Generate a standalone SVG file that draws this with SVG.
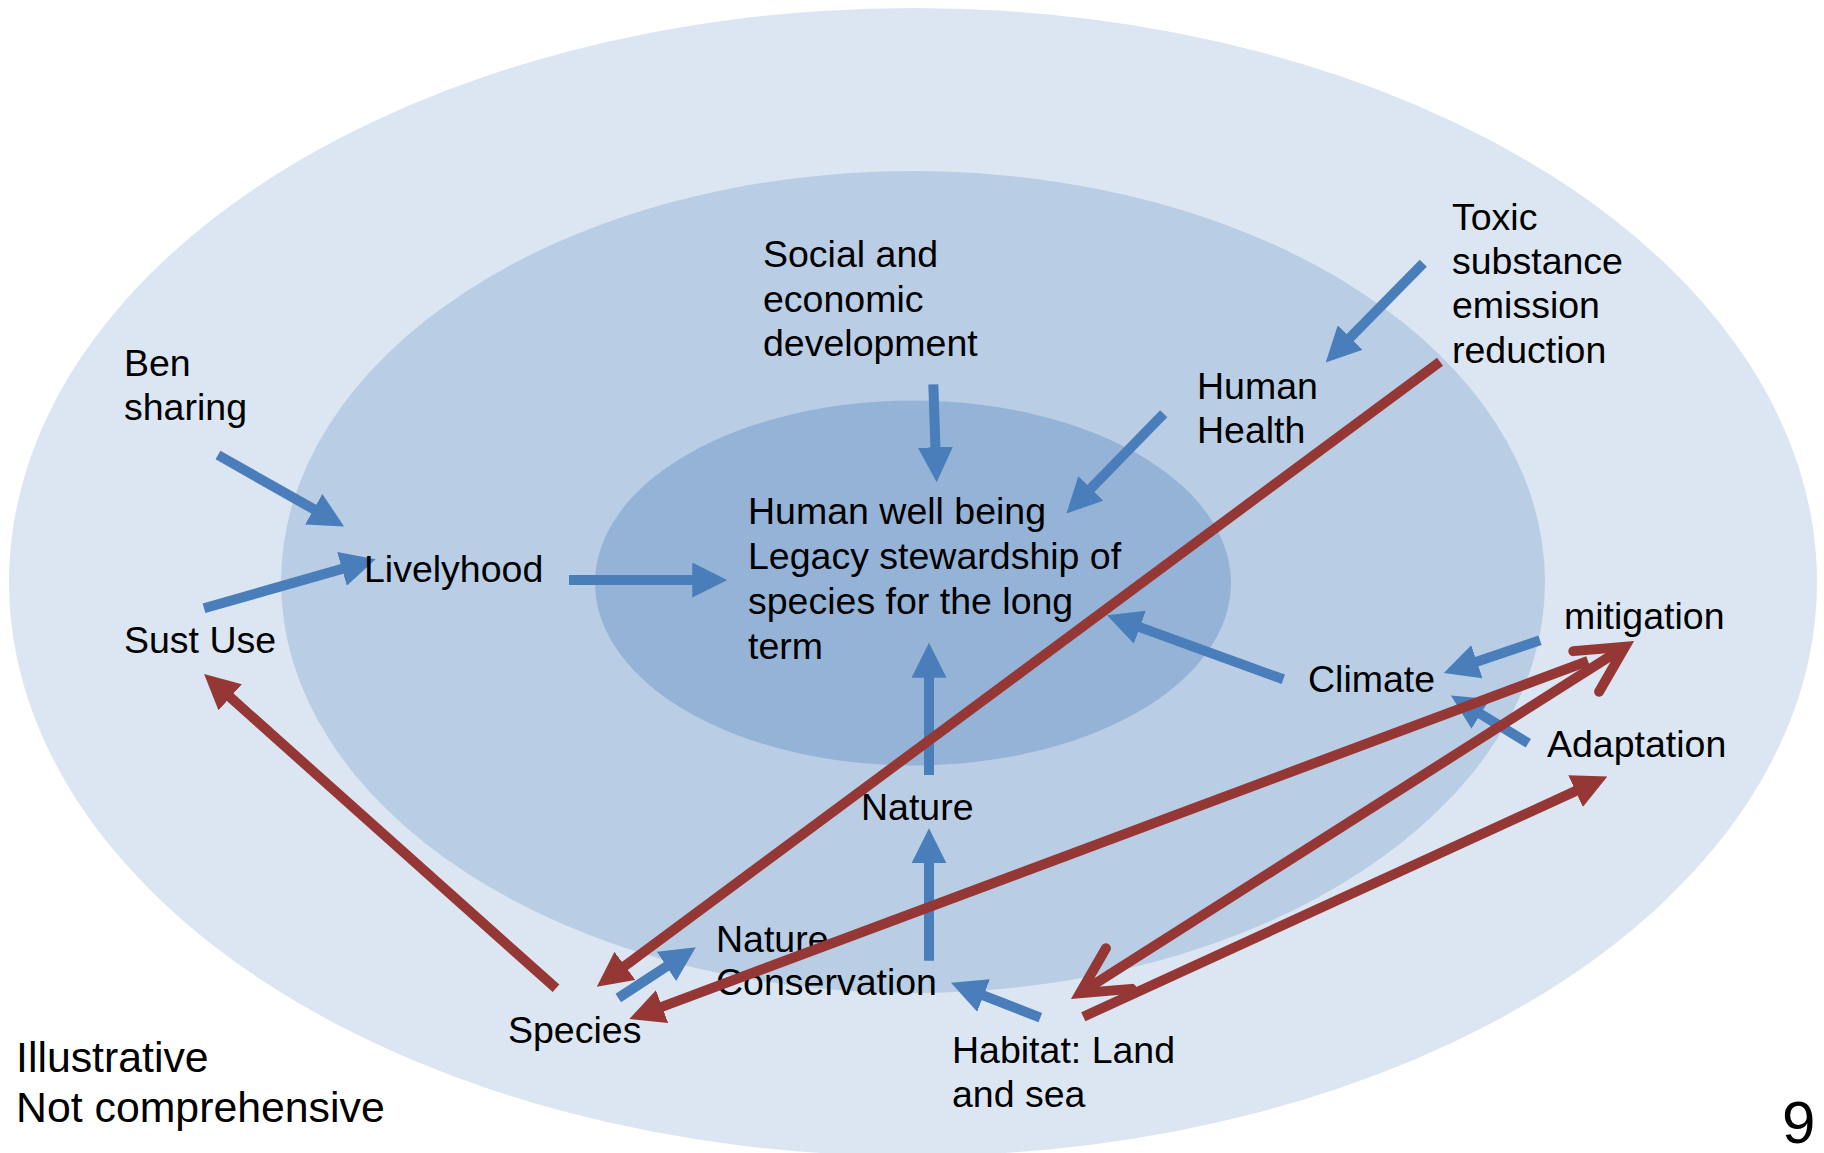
<svg xmlns="http://www.w3.org/2000/svg" width="1824" height="1153" viewBox="0 0 1824 1153">
<style>
text{font-family:"Liberation Sans",Arial,sans-serif;font-size:37.5px;fill:#000}
.legend{font-size:42.8px}
.page{font-size:60px}
.blue{stroke:#4a7ebb;stroke-width:10;fill:none;marker-end:url(#headBlue)}
.red{stroke:#953735;stroke-width:10;fill:none}
.redHead{marker-end:url(#headRed)}
.redOpen{marker-start:url(#openRed);marker-end:url(#openRed)}
</style>
<defs>
<marker id="headBlue" viewBox="0 0 10 10" refX="0.3" refY="5" markerWidth="3.5" markerHeight="3.5" orient="auto" markerUnits="strokeWidth"><path d="M0,0 L10,5 L0,10 Z" fill="#4a7ebb"/></marker>
<marker id="headRed" viewBox="0 0 10 10" refX="0.3" refY="5" markerWidth="3.5" markerHeight="3.5" orient="auto" markerUnits="strokeWidth"><path d="M0,0 L10,5 L0,10 Z" fill="#953735"/></marker>
<marker id="openRed" viewBox="-6 -4 8 8" refX="0" refY="0" markerWidth="8" markerHeight="8" orient="auto-start-reverse" markerUnits="strokeWidth"><path d="M-4.6,-2.4 L0,0 L-4.6,2.4" fill="none" stroke="#953735" stroke-width="1" stroke-linecap="round" stroke-linejoin="miter"/></marker>
</defs>
<rect width="1824" height="1153" fill="#ffffff"/>
<g id="rings">
<ellipse cx="913" cy="582" rx="904" ry="574" fill="#dce6f2"/>
<ellipse cx="913" cy="582" rx="632" ry="411" fill="#b9cde5"/>
<ellipse cx="913" cy="583" rx="318" ry="182.5" fill="#95b3d7"/>
</g>
<g id="connectors-blue">
<line class="blue" x1="218" y1="455" x2="314.6" y2="509.7"/>
<line class="blue" x1="204" y1="608.3" x2="343" y2="568.6"/>
<line class="blue" x1="569" y1="580" x2="693.3" y2="580"/>
<line class="blue" x1="933.3" y1="384.3" x2="935.5" y2="448.3"/>
<line class="blue" x1="1163.7" y1="413.7" x2="1090.1" y2="489.2"/>
<line class="blue" x1="1423.3" y1="263.3" x2="1349.5" y2="338.3"/>
<line class="blue" x1="929" y1="775" x2="929" y2="676.7"/>
<line class="blue" x1="929" y1="960.7" x2="929" y2="862.3"/>
<line class="blue" x1="1283.3" y1="679.3" x2="1138.9" y2="626.9"/>
<line class="blue" x1="1540" y1="640.3" x2="1475.9" y2="662.1"/>
<line class="blue" x1="1528.3" y1="743.3" x2="1479.8" y2="713.4"/>
<line class="blue" x1="1040.3" y1="1017.7" x2="982.6" y2="995.1"/>
<line class="blue" x1="618.3" y1="998" x2="667.4" y2="965.9"/>
</g>
<g id="ben-sharing"><text x="124" y="376">Ben</text><text x="124" y="420">sharing</text></g>
<g id="livelyhood"><text x="364" y="582">Livelyhood</text></g>
<g id="sust-use"><text x="124" y="653">Sust Use</text></g>
<g id="social-economic"><text x="763" y="267">Social and</text><text x="763" y="312">economic</text><text x="763" y="356">development</text></g>
<g id="human-well-being"><text x="748" y="524">Human well being</text><text x="748" y="569">Legacy stewardship of</text><text x="748" y="614">species for the long</text><text x="748" y="659">term</text></g>
<g id="toxic"><text x="1452" y="230">Toxic</text><text x="1452" y="274">substance</text><text x="1452" y="318">emission</text><text x="1452" y="363">reduction</text></g>
<g id="human-health"><text x="1197" y="399">Human</text><text x="1197" y="443">Health</text></g>
<g id="mitigation"><text x="1564" y="629">mitigation</text></g>
<g id="climate"><text x="1308" y="692">Climate</text></g>
<g id="adaptation"><text x="1547" y="757">Adaptation</text></g>
<g id="nature"><text x="861" y="820">Nature</text></g>
<g id="nature-conservation"><text x="716" y="952">Nature</text><text x="716" y="995">Conservation</text></g>
<g id="species"><text x="508" y="1043">Species</text></g>
<g id="habitat"><text x="952" y="1063">Habitat: Land</text><text x="952" y="1107">and sea</text></g>
<g id="legend"><text class="legend" x="16" y="1072">Illustrative</text><text class="legend" x="16" y="1122">Not comprehensive</text></g>
<g id="page-number"><text class="page" x="1782" y="1143">9</text></g>
<g id="connectors-red">
<line class="red redHead" x1="1440" y1="361.7" x2="624.1" y2="966.5"/>
<line class="red redHead" x1="556" y1="988.3" x2="229.4" y2="696.6"/>
<line class="red redHead" x1="1588" y1="661" x2="661.1" y2="1007.1"/>
<line class="red redHead" x1="1083.3" y1="1016.7" x2="1576.5" y2="790.6"/>
<line class="red redOpen" x1="1080" y1="993.3" x2="1625" y2="646.7"/>
</g>
</svg>
